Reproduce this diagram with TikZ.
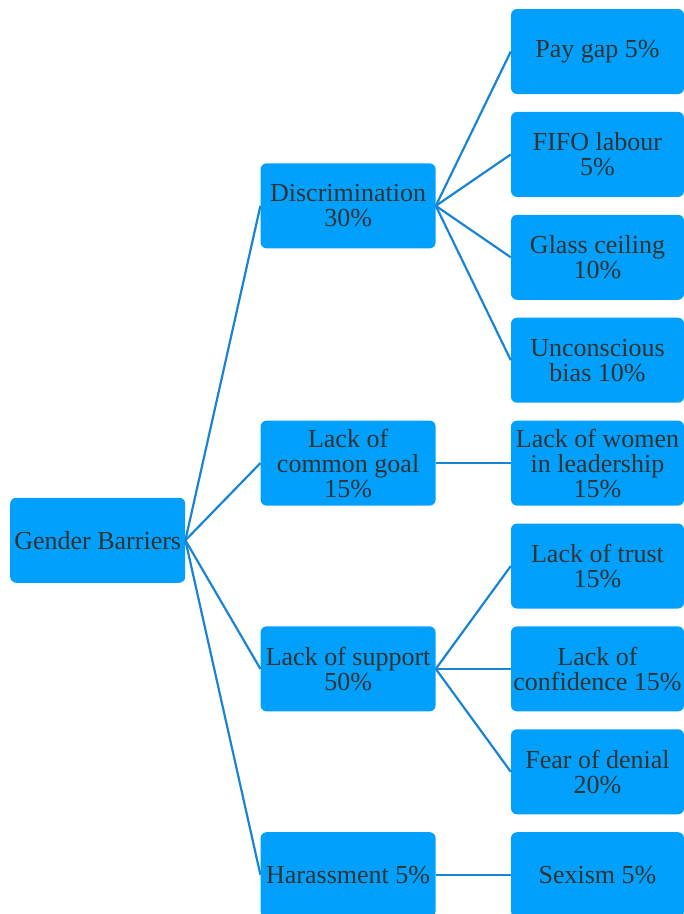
\documentclass[tikz,border=0pt]{standalone}
\usepackage{fontspec}
\setmainfont{Liberation Serif}
\newfontfamily\boxfont{Liberation Serif}
\usepackage{xcolor}
\usetikzlibrary{positioning,calc}
\definecolor{boxblue}{RGB}{0,160,252}
\definecolor{linkblue}{RGB}{24,132,210}
\definecolor{inkgray}{RGB}{51,51,51}
\begin{document}
\begin{tikzpicture}[
    x=1pt, y=1pt,
    node distance=17.5pt and 75pt,
    box/.style={fill=boxblue, rounded corners=6pt, minimum width=175pt, minimum height=85pt, align=center, inner sep=1pt, text=inkgray, font=\boxfont\fontsize{26}{25}\selectfont},
    leaf/.style={box, minimum width=173pt},
    link/.style={draw=linkblue, line width=2.2pt}
  ]
    \useasboundingbox (0,0) rectangle (684,-914);
    % right column
    \node[leaf] (pay) at (597.5,-51.5) {Pay gap 5\%};
    \node[leaf, below=of pay] (fifo) {FIFO labour\\5\%};
    \node[leaf, below=of fifo] (glass) {Glass ceiling\\10\%};
    \node[leaf, below=of glass] (bias) {Unconscious\\bias 10\%};
    \node[leaf, below=of bias] (women) {Lack of women\\in leadership\\15\%};
    \node[leaf, below=of women] (trust) {Lack of trust\\15\%};
    \node[leaf, below=of trust] (conf) {Lack of\\confidence 15\%};
    \node[leaf, below=of conf] (denial) {Fear of denial\\20\%};
    \node[leaf, below=of denial] (sexism) {Sexism 5\%};
    % middle column
    \node[box, anchor=east] (discr) at ($(fifo.west)!0.5!(glass.west)+(-75pt,0)$) {Discrimination\\30\%};
    \node[box, left=of women] (goal) {Lack of\\common goal\\15\%};
    \node[box, left=of conf] (support) {Lack of support\\50\%};
    \node[box, left=of sexism] (harass) {Harassment 5\%};
    % root
    \node[box, anchor=east] (root) at ($(discr.west)!0.5!(harass.west)+(-75pt,0)$) {Gender Barriers};
    \foreach \c in {discr,goal,support,harass}
      \draw[link] (root.east) -- (\c.west);
    \foreach \c in {pay,fifo,glass,bias}
      \draw[link] (discr.east) -- (\c.west);
    \draw[link] (goal.east) -- (women.west);
    \foreach \c in {trust,conf,denial}
      \draw[link] (support.east) -- (\c.west);
    \draw[link] (harass.east) -- (sexism.west);
  \end{tikzpicture}
\end{document}
